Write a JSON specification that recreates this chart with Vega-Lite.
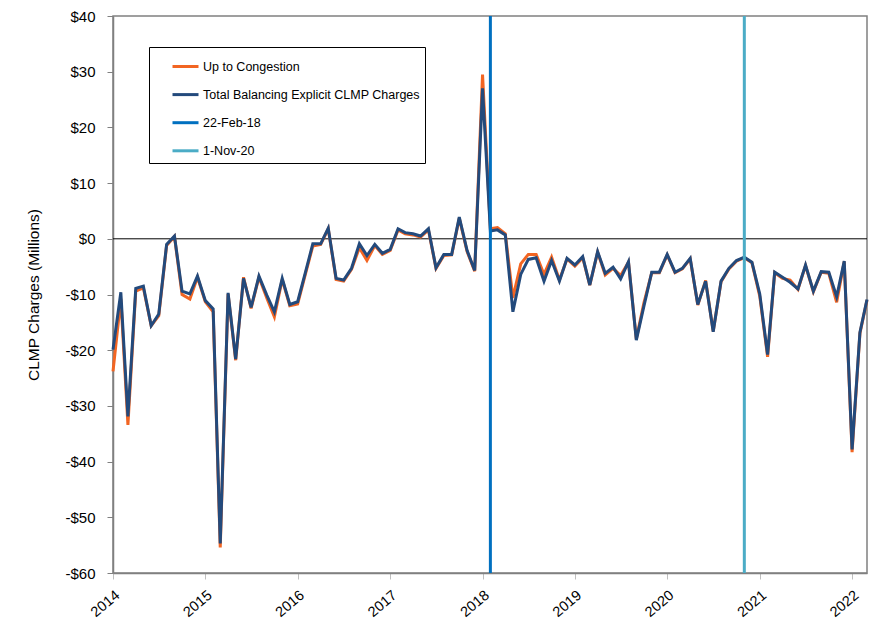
{
  "$schema": "https://vega.github.io/schema/vega-lite/v6.json",
  "width": 754,
  "height": 557,
  "autosize": {"type": "none"},
  "padding": {"left": 113, "top": 16, "right": 2, "bottom": 47},
  "background": "white",
  "config": {
    "font": "Liberation Sans",
    "view": {"stroke": "#808080", "strokeWidth": 1.5},
    "axis": {"grid": false, "labelColor": "black", "titleColor": "black", "titleFontWeight": "normal"}
  },
  "datasets": {
    "monthly": [
      {"date": "2014-01-01", "up": -23.8, "total": -19.9},
      {"date": "2014-02-01", "up": -10.8, "total": -9.6},
      {"date": "2014-03-01", "up": -33.4, "total": -31.9},
      {"date": "2014-04-01", "up": -9.4, "total": -8.9},
      {"date": "2014-05-01", "up": -8.8, "total": -8.5},
      {"date": "2014-06-01", "up": -15.6, "total": -15.6},
      {"date": "2014-07-01", "up": -13.8, "total": -13.5},
      {"date": "2014-08-01", "up": -1.2, "total": -1.0},
      {"date": "2014-09-01", "up": 0.4, "total": 0.5},
      {"date": "2014-10-01", "up": -10.0, "total": -9.4},
      {"date": "2014-11-01", "up": -10.8, "total": -9.9},
      {"date": "2014-12-01", "up": -6.9, "total": -6.7},
      {"date": "2015-01-01", "up": -11.3, "total": -11.1},
      {"date": "2015-02-01", "up": -13.1, "total": -12.6},
      {"date": "2015-03-01", "up": -55.4, "total": -54.7},
      {"date": "2015-04-01", "up": -9.9, "total": -9.7},
      {"date": "2015-05-01", "up": -21.8, "total": -21.6},
      {"date": "2015-06-01", "up": -6.9, "total": -7.1},
      {"date": "2015-07-01", "up": -12.5, "total": -12.3},
      {"date": "2015-08-01", "up": -6.9, "total": -6.7},
      {"date": "2015-09-01", "up": -10.6, "total": -10.1},
      {"date": "2015-10-01", "up": -14.0, "total": -13.1},
      {"date": "2015-11-01", "up": -7.3, "total": -7.1},
      {"date": "2015-12-01", "up": -12.0, "total": -11.8},
      {"date": "2016-01-01", "up": -11.7, "total": -11.3},
      {"date": "2016-02-01", "up": -6.3, "total": -6.0},
      {"date": "2016-03-01", "up": -1.3, "total": -0.9},
      {"date": "2016-04-01", "up": -1.0, "total": -0.9},
      {"date": "2016-05-01", "up": 1.8, "total": 1.9},
      {"date": "2016-06-01", "up": -7.3, "total": -7.1},
      {"date": "2016-07-01", "up": -7.6, "total": -7.4},
      {"date": "2016-08-01", "up": -5.5, "total": -5.3},
      {"date": "2016-09-01", "up": -1.6, "total": -0.9},
      {"date": "2016-10-01", "up": -3.9, "total": -3.0},
      {"date": "2016-11-01", "up": -1.2, "total": -1.0},
      {"date": "2016-12-01", "up": -2.8, "total": -2.6},
      {"date": "2017-01-01", "up": -2.1, "total": -1.9},
      {"date": "2017-02-01", "up": 1.6, "total": 1.8},
      {"date": "2017-03-01", "up": 0.9, "total": 1.1},
      {"date": "2017-04-01", "up": 0.7, "total": 0.9},
      {"date": "2017-05-01", "up": 0.3, "total": 0.5},
      {"date": "2017-06-01", "up": 1.6, "total": 1.8},
      {"date": "2017-07-01", "up": -5.3, "total": -5.2},
      {"date": "2017-08-01", "up": -3.0, "total": -2.8},
      {"date": "2017-09-01", "up": -2.9, "total": -2.8},
      {"date": "2017-10-01", "up": 3.7, "total": 3.9},
      {"date": "2017-11-01", "up": -2.3, "total": -2.1},
      {"date": "2017-12-01", "up": -5.8, "total": -5.7},
      {"date": "2018-01-01", "up": 29.5, "total": 27.0},
      {"date": "2018-02-01", "up": 1.8, "total": 1.4},
      {"date": "2018-03-01", "up": 2.0, "total": 1.6},
      {"date": "2018-04-01", "up": 0.9, "total": 0.7},
      {"date": "2018-05-01", "up": -10.6, "total": -13.1},
      {"date": "2018-06-01", "up": -4.5, "total": -6.4},
      {"date": "2018-07-01", "up": -2.8, "total": -3.7},
      {"date": "2018-08-01", "up": -2.8, "total": -3.4},
      {"date": "2018-09-01", "up": -6.4, "total": -7.6},
      {"date": "2018-10-01", "up": -3.3, "total": -3.9},
      {"date": "2018-11-01", "up": -7.4, "total": -7.6},
      {"date": "2018-12-01", "up": -3.6, "total": -3.5},
      {"date": "2019-01-01", "up": -4.9, "total": -4.7},
      {"date": "2019-02-01", "up": -3.4, "total": -3.2},
      {"date": "2019-03-01", "up": -8.3, "total": -8.3},
      {"date": "2019-04-01", "up": -2.4, "total": -2.3},
      {"date": "2019-05-01", "up": -6.5, "total": -6.2},
      {"date": "2019-06-01", "up": -5.3, "total": -5.1},
      {"date": "2019-07-01", "up": -6.6, "total": -7.2},
      {"date": "2019-08-01", "up": -4.2, "total": -4.1},
      {"date": "2019-09-01", "up": -18.0, "total": -18.2},
      {"date": "2019-10-01", "up": -11.5, "total": -12.1},
      {"date": "2019-11-01", "up": -6.1, "total": -6.0},
      {"date": "2019-12-01", "up": -6.1, "total": -6.0},
      {"date": "2020-01-01", "up": -2.9, "total": -2.8},
      {"date": "2020-02-01", "up": -6.1, "total": -6.0},
      {"date": "2020-03-01", "up": -5.4, "total": -5.3},
      {"date": "2020-04-01", "up": -3.6, "total": -3.5},
      {"date": "2020-05-01", "up": -11.9, "total": -11.8},
      {"date": "2020-06-01", "up": -7.5, "total": -7.6},
      {"date": "2020-07-01", "up": -16.6, "total": -16.7},
      {"date": "2020-08-01", "up": -7.7, "total": -7.6},
      {"date": "2020-09-01", "up": -5.4, "total": -5.3},
      {"date": "2020-10-01", "up": -4.0, "total": -3.9},
      {"date": "2020-11-01", "up": -3.4, "total": -3.3},
      {"date": "2020-12-01", "up": -4.3, "total": -4.2},
      {"date": "2021-01-01", "up": -10.3, "total": -9.9},
      {"date": "2021-02-01", "up": -21.2, "total": -20.8},
      {"date": "2021-03-01", "up": -6.1, "total": -6.0},
      {"date": "2021-04-01", "up": -7.1, "total": -6.9},
      {"date": "2021-05-01", "up": -7.4, "total": -7.8},
      {"date": "2021-06-01", "up": -9.1, "total": -9.0},
      {"date": "2021-07-01", "up": -4.8, "total": -4.7},
      {"date": "2021-08-01", "up": -9.5, "total": -9.4},
      {"date": "2021-09-01", "up": -6.0, "total": -5.9},
      {"date": "2021-10-01", "up": -6.2, "total": -6.0},
      {"date": "2021-11-01", "up": -11.4, "total": -10.4},
      {"date": "2021-12-01", "up": -4.1, "total": -4.0},
      {"date": "2022-01-01", "up": -38.3, "total": -37.8},
      {"date": "2022-02-01", "up": -17.0, "total": -16.8},
      {"date": "2022-03-01", "up": -11.0, "total": -10.9}
    ],
    "events": [
      {"date": "2018-02-22", "label": "22-Feb-18"},
      {"date": "2020-11-01", "label": "1-Nov-20"}
    ]
  },
  "encoding": {
    "x": {
      "type": "temporal",
      "scale": {
        "type": "utc",
        "domain": [
          {"year": 2014, "month": 1, "date": 1, "utc": true},
          {"year": 2022, "month": 3, "date": 1, "utc": true}
        ]
      },
      "axis": {
        "title": null,
        "format": "%Y",
        "tickCount": {"interval": "year", "step": 1},
        "labelAngle": -40,
        "labelAlign": "right",
        "labelBaseline": "top",
        "labelFontSize": 14.5,
        "labelPadding": 9,
        "tickSize": 6,
        "tickColor": "#bfbfbf",
        "domainColor": "#808080",
        "domainWidth": 1.5
      }
    }
  },
  "layer": [
    {
      "data": {"values": [{}]},
      "mark": {"type": "rule", "color": "black", "strokeWidth": 1},
      "encoding": {"y": {"datum": 0, "type": "quantitative"}, "x": null}
    },
    {
      "data": {"name": "monthly"},
      "mark": {"type": "line", "strokeWidth": 3},
      "encoding": {
        "x": {"field": "date", "type": "temporal"},
        "y": {
          "field": "up",
          "type": "quantitative",
          "scale": {"domain": [-60, 40], "nice": false, "zero": false},
          "axis": {
            "title": "CLMP Charges (Millions)",
            "titleFontSize": 15.5,
            "titlePadding": 23,
            "values": [-60, -50, -40, -30, -20, -10, 0, 10, 20, 30, 40],
            "labelExpr": "datum.value < 0 ? '-$' + abs(datum.value) : '$' + datum.value",
            "labelFontSize": 15,
            "labelPadding": 12,
            "tickSize": 6,
            "tickColor": "#808080",
            "domainColor": "#808080",
            "domainWidth": 1.5
          }
        },
        "color": {
          "datum": "Up to Congestion",
          "scale": {
            "domain": ["Up to Congestion", "Total Balancing Explicit CLMP Charges", "22-Feb-18", "1-Nov-20"],
            "range": ["#F26522", "#234A7C", "#0070C0", "#4BACC6"]
          },
          "legend": {
            "title": null,
            "orient": "none",
            "legendX": 36,
            "legendY": 31,
            "strokeColor": "black",
            "fillColor": "white",
            "padding": 5,
            "symbolOffset": 17,
            "symbolType": "stroke",
            "symbolSize": 676,
            "symbolStrokeWidth": 3,
            "labelFontSize": 12.5,
            "labelOffset": 3,
            "labelLimit": 500,
            "rowPadding": 7.1,
            "labelColor": "black"
          }
        }
      }
    },
    {
      "data": {"name": "monthly"},
      "mark": {"type": "line", "strokeWidth": 3},
      "encoding": {
        "x": {"field": "date", "type": "temporal"},
        "y": {"field": "total", "type": "quantitative"},
        "color": {"datum": "Total Balancing Explicit CLMP Charges"}
      }
    },
    {
      "data": {"name": "events"},
      "mark": {"type": "rule", "strokeWidth": 3},
      "encoding": {
        "x": {"field": "date", "type": "temporal", "timeUnit": "utcyearmonth"},
        "color": {"field": "label", "type": "nominal", "legend": {"title": null}}
      }
    }
  ]
}
